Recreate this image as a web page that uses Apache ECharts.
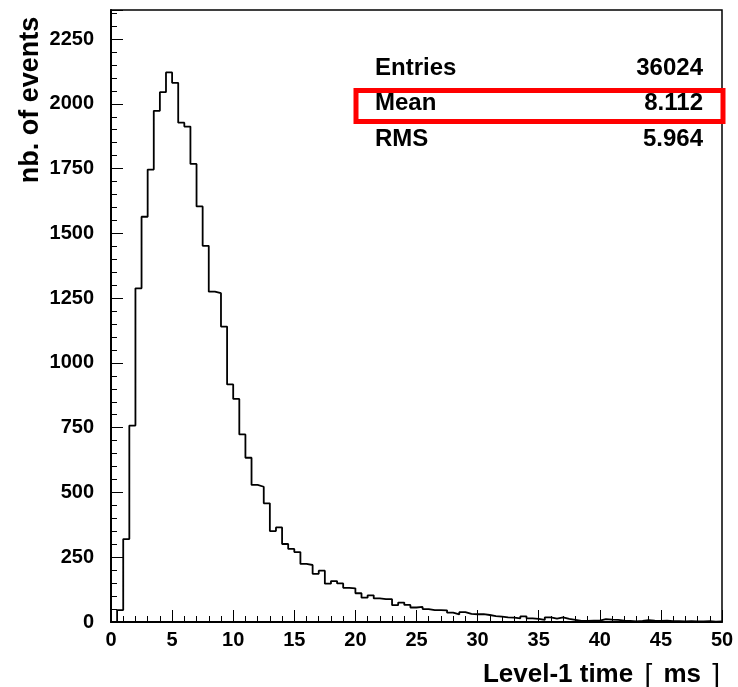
<!DOCTYPE html>
<html>
<head>
<meta charset="utf-8">
<script src="https://cdn.jsdelivr.net/npm/echarts@6/dist/echarts.min.js"></script>
<style>
html,body{margin:0;padding:0;background:#fff;}
#chart{width:738px;height:687px;}
</style>
</head>
<body>
<div id="chart"></div>
<script>
// Histogram: bin width 0.5 ms from 0 to 50 ms
const binWidth = 0.5;
const binStart = 0;
const counts = [
  0, 46, 320, 758, 1288, 1564, 1746, 1973, 2045, 2121,
  2081, 1927, 1912, 1768, 1604, 1452, 1275, 1269, 1140, 917,
  861, 724, 634, 529, 522, 458, 351, 365, 301, 282,
  270, 224, 220, 186, 198, 148, 158, 149, 132, 130,
  111, 94, 103, 91, 88, 88, 65, 75, 66, 56,
  58, 50, 46, 46, 45, 36, 29, 38, 31, 30,
  30, 27, 23, 21, 18, 17, 14, 22, 14, 12,
  8, 18, 13, 18, 12, 8, 4, 4, 5, 5,
  11, 9, 8, 5, 4, 2, 4, 7, 5, 4,
  5, 3, 3, 2, 3, 2, 2, 3, 1, 2
];
const statLabels = ["Entries", "Mean", "RMS"];
const statValues = ["36024", "8.112", "5.964"];
const xTitleMain = "Level-1 time";
const xTitleUnit = "ms";
const yTitle = "nb. of events";

const stepData = counts.map((c, i) => [binStart + i * binWidth, c]);
stepData.push([binStart + counts.length * binWidth, counts[counts.length - 1]]);

const chart = echarts.init(document.getElementById('chart'), null, {renderer: 'canvas'});
const tickFont = {fontFamily: 'Liberation Sans', fontWeight: 'bold', fontSize: 20, color: '#000'};
const statFont = 'bold 24px "Liberation Sans"';

const graphics = [];
statLabels.forEach((lab, i) => {
  const y = [68, 103, 139][i];
  graphics.push({type: 'text', left: 375, top: y - 12, style: {text: lab, font: statFont, fill: '#000'}});
  graphics.push({type: 'text', right: 35, top: y - 12, style: {text: statValues[i], font: statFont, fill: '#000'}});
});
graphics.push({type: 'rect', shape: {x: 356, y: 90.5, width: 367, height: 31}, style: {fill: 'none', stroke: '#ff0000', lineWidth: 5}});
graphics.push({type: 'text', right: 18, top: 661, style: {
  text: xTitleMain + ' {b|[} ' + xTitleUnit + ' {b|]}',
  font: 'bold 26px "Liberation Sans"', fill: '#000',
  rich: {b: {fontFamily: 'Liberation Sans', fontWeight: 'normal', fontSize: 28, padding: [0, 4, 0, 4], fill: '#000'}}
}});
graphics.push({type: 'text', x: 31, y: 100, rotation: Math.PI / 2, style: {text: yTitle, font: 'bold 27px "Liberation Sans"', fill: '#000', textAlign: 'center', textVerticalAlign: 'middle'}});

chart.setOption({
  backgroundColor: '#fff',
  animation: false,
  grid: {left: 111, right: 16, top: 10, bottom: 65, show: true, borderColor: '#000', borderWidth: 1.5, backgroundColor: 'transparent'},
  xAxis: {
    type: 'value', min: 0, max: 50, interval: 5,
    axisLine: {show: true, onZero: false, lineStyle: {color: '#000', width: 2}},
    axisTick: {show: true, inside: true, length: 12, lineStyle: {color: '#000', width: 1}},
    minorTick: {show: true, splitNumber: 5, length: 6, lineStyle: {color: '#000', width: 1}},
    splitLine: {show: false},
    axisLabel: Object.assign({margin: 8}, tickFont)
  },
  yAxis: {
    type: 'value', min: 0, max: 2362, interval: 250,
    axisLine: {show: true, onZero: false, lineStyle: {color: '#000', width: 2}},
    axisTick: {show: true, inside: true, length: 12, lineStyle: {color: '#000', width: 1}},
    minorTick: {show: true, splitNumber: 5, length: 6, lineStyle: {color: '#000', width: 1}},
    splitLine: {show: false},
    axisLabel: Object.assign({margin: 17, formatter: v => (v % 250 === 0 ? String(v) : ''), showMaxLabel: false}, tickFont)
  },
  series: [{
    type: 'line', step: 'end', data: stepData, showSymbol: false, symbol: 'none',
    lineStyle: {color: '#000', width: 1.8}, silent: true
  }],
  graphic: graphics
});
</script>
</body>
</html>
